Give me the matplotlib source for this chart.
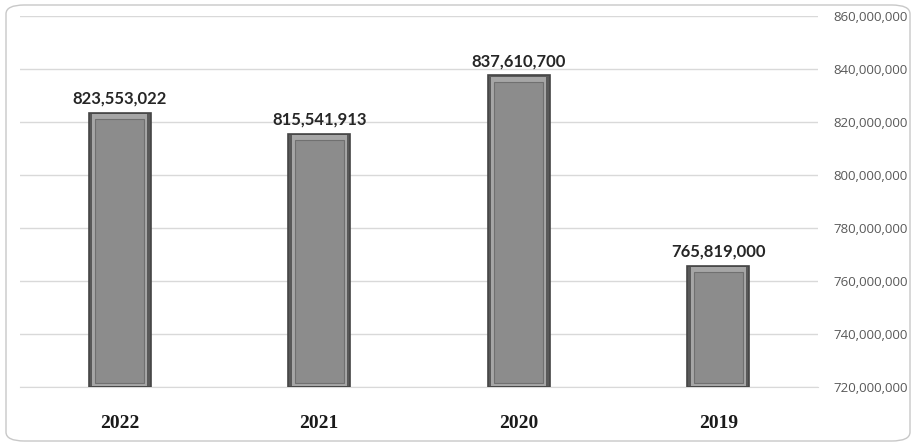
import matplotlib
matplotlib.use("Agg")
import matplotlib.pyplot as plt
from matplotlib.patches import FancyBboxPatch
from matplotlib.ticker import FuncFormatter

years = ["2022", "2021", "2020", "2019"]
values = [823553022, 815541913, 837610700, 765819000]
ymin, ymax = 720000000, 860000000
yticks = [720000000, 740000000, 760000000, 780000000, 800000000, 820000000, 840000000, 860000000]

fig = plt.figure(figsize=(9.16, 4.45), dpi=100)
fig.patch.set_facecolor("white")
border = FancyBboxPatch((6/916, 4/445), 904/916, 436/445,
                        boxstyle="round,pad=0,rounding_size=0.02",
                        transform=fig.transFigure, facecolor="none",
                        edgecolor="#c8c8c8", linewidth=1.0, zorder=-1)
fig.patches.append(border)

ax = fig.add_axes([20/916, (445-387)/445, 798/916, 371/445])
ax.set_facecolor("none")
x = list(range(len(years)))
ax.set_xlim(-0.5, len(years) - 0.5)
ax.set_ylim(ymin, ymax)

heights = [v - ymin for v in values]
off = 1.0e6
# outer frame
ax.bar(x, heights, width=0.31, bottom=ymin, color="#595959", edgecolor="#454545", linewidth=1.2, zorder=3)
# bevel highlight
ax.bar(x, [h - off for h in heights], width=0.275, bottom=ymin + off*0.5, color="#a6a6a6", edgecolor="none", zorder=4)
# inner face
ax.bar(x, [h - 4*off for h in heights], width=0.245, bottom=ymin + 1.5*off, color="#8c8c8c", edgecolor="#707070", linewidth=0.8, zorder=5)

for xi, v in zip(x, values):
    ax.text(xi, v + 2.2e6, f"{v:,}", ha="center", va="bottom", fontsize=12,
            fontweight="bold", color="#262626", family="Lato")

ax.yaxis.tick_right()
ax.set_yticks(yticks)
ax.yaxis.set_major_formatter(FuncFormatter(lambda v, p: f"{int(v):,}"))
ax.tick_params(axis="y", length=0, pad=11, labelsize=9.5, labelcolor="#595959")
for lbl in ax.get_yticklabels():
    lbl.set_family("Open Sans")
ax.grid(axis="y", color="#d9d9d9", linewidth=1.0, zorder=0)
ax.set_xticks(x)
ax.set_xticklabels(years, fontsize=14, fontweight="bold", family="Liberation Serif", color="#1a1a1a")
ax.tick_params(axis="x", length=0, pad=20)
for s in ["top", "left", "right"]:
    ax.spines[s].set_visible(False)
ax.spines["bottom"].set_color("#d9d9d9")

fig.savefig("out.png", dpi=100, facecolor="white")
